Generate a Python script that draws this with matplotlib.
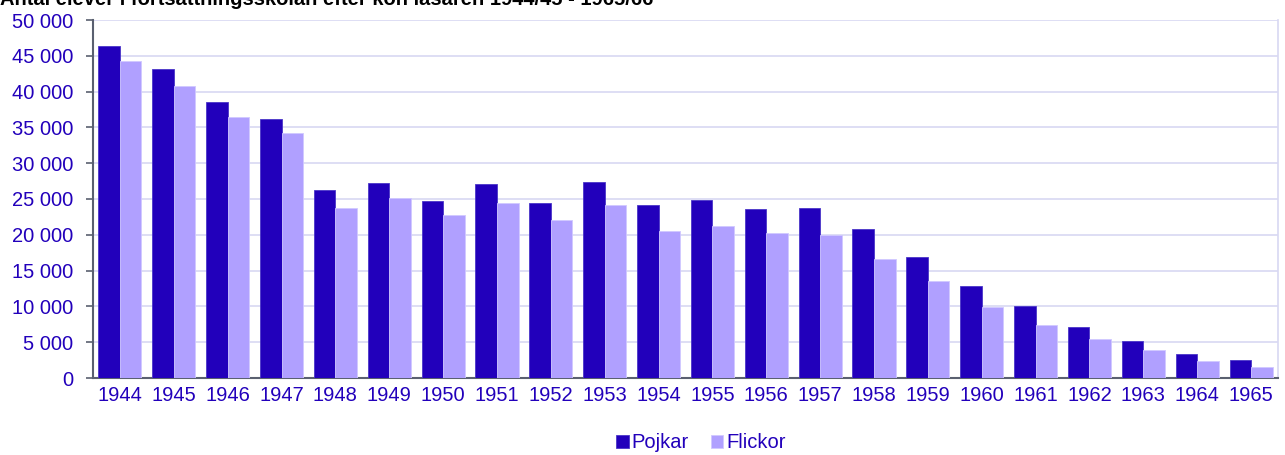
import matplotlib
matplotlib.use("Agg")
import matplotlib.pyplot as plt
from matplotlib.ticker import FuncFormatter
import numpy as np

plt.rcParams['font.family'] = ['Liberation Sans', 'DejaVu Sans']

years = ["1944", "1945", "1946", "1947", "1948", "1949", "1950", "1951", "1952", "1953", "1954",
         "1955", "1956", "1957", "1958", "1959", "1960", "1961", "1962", "1963", "1964", "1965"]
pojkar = [46400, 43200, 38500, 36200, 26200, 27200, 24700, 27100, 24500, 27400, 24200,
          24900, 23600, 23700, 20800, 16900, 12900, 10100, 7100, 5200, 3400, 2500]
flickor = [44300, 40800, 36400, 34200, 23800, 25100, 22700, 24500, 22000, 24200, 20500,
           21200, 20200, 20000, 16600, 13600, 9900, 7400, 5400, 3900, 2400, 1600]

blue = "#2200BB"
light = "#B0A0FF"
text_col = "#2200BB"
fs = 14.5

fig = plt.figure(figsize=(12.85, 4.55), dpi=100)
ax = fig.add_axes([93/1285, 1-378/455, (1278-93)/1285, (378-20)/455])

x = np.arange(len(years))
w = 0.4
ax.bar(x - w/2, pojkar, w, color=blue, edgecolor="#4a35c8", linewidth=0.6, label="Pojkar", zorder=3)
ax.bar(x + w/2, flickor, w, color=light, edgecolor="#d0c8ff", linewidth=0.6, label="Flickor", zorder=3)

ax.set_xlim(-0.5, len(years) - 0.5)
ax.set_ylim(0, 50000)
ax.set_yticks(range(0, 50001, 5000))
ax.yaxis.set_major_formatter(FuncFormatter(lambda v, p: f"{int(v):,}".replace(",", " ")))
ax.set_xticks(x)
ax.set_xticklabels(years)

ax.grid(axis="y", color="#D8D8F2", linewidth=1.2, zorder=0)
ax.set_axisbelow(True)
ax.spines["top"].set_visible(False)
ax.spines["right"].set_color("#D8D8F2")
ax.spines["right"].set_linewidth(1.2)
ax.spines["left"].set_color("#5a6070")
ax.spines["bottom"].set_color("#5a6070")
ax.spines["left"].set_linewidth(1.5)
ax.spines["bottom"].set_linewidth(1.5)
ax.tick_params(axis="y", length=5, width=1.2, color="#5a6070", labelsize=fs, labelcolor=text_col, pad=9)
ax.tick_params(axis="x", length=0, labelsize=fs, labelcolor=text_col, pad=6)

fig.text(0.0, 1 - 5/455, "Antal elever i fortsättningsskolan efter kön läsåren 1944/45 - 1965/66",
         fontsize=fs, fontweight="bold", color="black", ha="left", va="baseline")

fig.legend(loc="center", bbox_to_anchor=(701/1285, 1 - 443/455), ncol=2, frameon=False,
           fontsize=fs, handlelength=0.6, handleheight=0.6, handletextpad=0.15,
           columnspacing=1.1, labelcolor=text_col)

fig.savefig("out.png", dpi=100)
